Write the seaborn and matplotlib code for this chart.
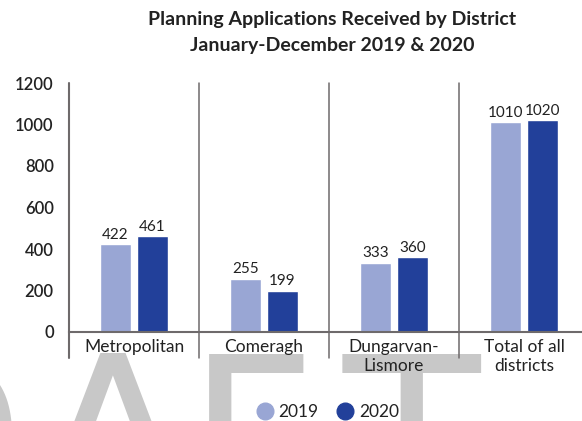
import matplotlib
matplotlib.use("Agg")
import matplotlib.pyplot as plt
from matplotlib.lines import Line2D
import pandas as pd
import seaborn as sns

districts = ["Metropolitan", "Comeragh", "Dungarvan-\nLismore", "Total of all\ndistricts"]
years = ["2019", "2020"]
apps_2019 = [422, 255, 333, 1010]
apps_2020 = [461, 199, 360, 1020]
yticks = [0, 200, 400, 600, 800, 1000, 1200]

df = pd.DataFrame({
    "district": districts * 2,
    "year": [years[0]] * 4 + [years[1]] * 4,
    "apps": apps_2019 + apps_2020,
})

sns.set_style("white")
plt.rcParams["font.family"] = ["Lato", "DejaVu Sans"]

colors = {"2019": "#99a6d4", "2020": "#22409a"}
text_col = "#222222"
line_col = "#6e6a6b"

fig = plt.figure(figsize=(5.82, 4.21), dpi=100)
H = 421.0

# DRAFT watermark behind everything
wm = dict(fontsize=162, color="#c8c8c8", family="DejaVu Sans", ha="center",
          va="baseline", zorder=0)
for ch, cx in [("D", -62), ("A", 112), ("F", 252), ("T", 411)]:
    fig.text(cx / 582.0, (H - 517) / H, ch, **wm)

ax = fig.add_axes([69 / 582.0, 89 / H, 520 / 582.0, 249 / H])
ax.set_facecolor("none")
ax.set_zorder(2)

sns.barplot(data=df, x="district", y="apps", hue="year", palette=colors,
            width=0.57, gap=0.16, saturation=1, ax=ax, legend=False)

for cont in ax.containers:
    ax.bar_label(cont, padding=2, fontsize=11, color=text_col)

ax.set_xlim(-0.5, 3.5)
ax.set_ylim(0, 1200)
ax.set_yticks(yticks)
ax.set_yticklabels([str(v) for v in yticks], fontsize=12, color=text_col,
                   fontweight="semibold")
ax.tick_params(axis="y", length=0, pad=11)
ax.tick_params(axis="x", length=0, pad=5, labelsize=12.5, labelcolor=text_col)
ax.set_xlabel("")
ax.set_ylabel("")

for s in ["top", "right", "left"]:
    ax.spines[s].set_visible(False)
ax.spines["bottom"].set_color(line_col)
ax.spines["bottom"].set_linewidth(1.5)

# group separators, running down into label area
ax.axvline(-0.5, ymin=-0.104, ymax=1, color=line_col, lw=1.5, clip_on=False)
for xs in [0.5, 1.5, 2.5]:
    ax.axvline(xs, ymin=-0.104, ymax=1, color=line_col, lw=1.1, clip_on=False)

fig.text(332 / 582.0, 1 - 20 / H, "Planning Applications Received by District",
         ha="center", va="center", fontsize=14, fontweight="bold", color=text_col)
fig.text(332 / 582.0, 1 - 46 / H, "January-December 2019 & 2020",
         ha="center", va="center", fontsize=14, fontweight="bold", color=text_col)

handles = [Line2D([], [], marker="o", ls="", markersize=12, color=colors[y]) for y in years]
fig.legend(handles, years, loc="center", bbox_to_anchor=(328 / 582.0, 9 / H),
           ncol=2, frameon=False, fontsize=12.5, handlelength=0.9,
           handletextpad=0.35, columnspacing=1.1, labelcolor=text_col)

fig.savefig("out.png", dpi=100)
